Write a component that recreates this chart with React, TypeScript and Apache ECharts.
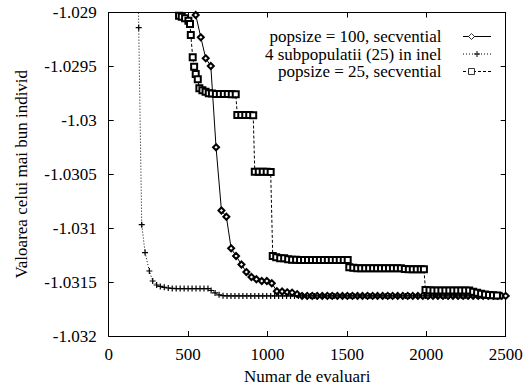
import React, { useEffect, useRef } from "react";
import * as echarts from "echarts";

// Best individual's value versus number of evaluations, three GA setups.
const seriesNames = [
  "popsize = 100, secvential",
  "4 subpopulatii (25) in inel",
  "popsize = 25, secvential",
];

// popsize = 100, sequential
const popsize100X = [
  516, 548, 580, 611, 643, 676, 710, 741, 771, 802,
  836, 867, 899, 930, 964, 996, 1027, 1059, 1092, 1124,
  1155, 1187,
  1218, 1250, 1282, 1313, 1345, 1377, 1408, 1440, 1472, 1503,
  1535, 1567, 1598, 1630, 1662, 1693, 1725, 1757, 1788, 1820,
  1852, 1883, 1915, 1947, 1978, 2010, 2042, 2073, 2105, 2137,
  2168, 2200, 2232, 2263, 2295, 2327, 2358, 2390, 2422, 2450,
  2475, 2500,
];
const popsize100Y = [
  -1.02885, -1.029023, -1.02923, -1.029425, -1.029496, -1.03025, -1.030836, -1.030894, -1.031187, -1.031258,
  -1.031337, -1.031407, -1.031453, -1.031474, -1.03149, -1.03149, -1.031511, -1.031585, -1.031587, -1.031595,
  -1.031598, -1.031612,
  -1.031628, -1.031628, -1.031628, -1.031628, -1.031628, -1.031628, -1.031628, -1.031628, -1.031628, -1.031628,
  -1.031628, -1.031628, -1.031628, -1.031628, -1.031628, -1.031628, -1.031628, -1.031628, -1.031628, -1.031628,
  -1.031628, -1.031628, -1.031628, -1.031628, -1.031628, -1.031628, -1.031628, -1.031628, -1.031628, -1.031628,
  -1.031628, -1.031628, -1.031628, -1.031628, -1.031628, -1.031628, -1.031628, -1.031628, -1.031628, -1.031628,
  -1.031628, -1.031628,
];

// 4 subpopulations of 25 in a ring
const ringX = [
  183, 189, 208, 229, 256, 277, 302, 325, 350, 375,
  400, 425, 450, 475, 500, 525, 550, 575, 600, 625,
  645, 670, 695, 720,
  745, 770, 795, 820, 845, 870, 895, 920, 945, 970,
  995, 1020, 1045, 1070, 1095, 1120, 1145, 1170, 1195, 1220,
  1245, 1270, 1295, 1320, 1345, 1370, 1395, 1420, 1445, 1470,
  1495, 1520, 1545, 1570, 1595, 1620, 1645, 1670, 1695, 1720,
  1745, 1770, 1795, 1820, 1845, 1870, 1895, 1920, 1945, 1970,
  1995, 2020, 2045, 2070, 2095, 2120, 2145, 2170, 2195, 2220,
  2245, 2270, 2295, 2320, 2345, 2370, 2395, 2420, 2445,
];
const ringY = [
  -1.028, -1.029141, -1.030968, -1.031226, -1.031397, -1.03149, -1.031527, -1.03154, -1.031549, -1.031555,
  -1.031559, -1.03156, -1.03156, -1.03156, -1.03156, -1.03156, -1.03156, -1.03156, -1.03156, -1.03156,
  -1.031578, -1.031601, -1.031618, -1.031626,
  -1.031628, -1.031628, -1.031628, -1.031628, -1.031628, -1.031628, -1.031628, -1.031628, -1.031628, -1.031628,
  -1.031628, -1.031628, -1.031628, -1.031628, -1.031628, -1.031628, -1.031628, -1.031628, -1.031628, -1.031628,
  -1.031628, -1.031628, -1.031628, -1.031628, -1.031628, -1.031628, -1.031628, -1.031628, -1.031628, -1.031628,
  -1.031628, -1.031628, -1.031628, -1.031628, -1.031628, -1.031628, -1.031628, -1.031628, -1.031628, -1.031628,
  -1.031628, -1.031628, -1.031628, -1.031628, -1.031628, -1.031628, -1.031628, -1.031628, -1.031628, -1.031628,
  -1.031628, -1.031628, -1.031628, -1.031628, -1.031628, -1.031628, -1.031628, -1.031628, -1.031628, -1.031628,
  -1.031628, -1.031628, -1.031628, -1.031628, -1.031628, -1.031628, -1.031628, -1.031628, -1.031628,
];

// popsize = 25, sequential
const popsize25X = [
  425, 443, 460, 481, 502, 512, 517, 529, 538, 548,
  561, 571, 590, 610, 630, 650, 675, 700, 725, 750,
  775, 800, 810, 835, 860, 885, 910, 920, 945, 970,
  995, 1020, 1033, 1055, 1080, 1105, 1130, 1155, 1180, 1205,
  1230, 1255, 1280, 1305, 1330, 1355, 1380, 1405, 1430, 1455,
  1480, 1505, 1515, 1540, 1565, 1590, 1615, 1640, 1665, 1690,
  1715, 1740, 1765, 1790, 1815, 1840, 1865, 1890, 1915, 1940,
  1965, 1985, 1995, 2020, 2045, 2070, 2095, 2120, 2145, 2170,
  2195, 2220, 2245, 2270, 2295, 2320, 2345, 2370, 2395, 2420,
  2445,
];
const popsize25Y = [
  -1.0287, -1.02903, -1.029039, -1.029054, -1.029076, -1.029107, -1.029209, -1.029415, -1.029503, -1.02957,
  -1.029619, -1.029703, -1.02972, -1.029735, -1.029748, -1.029752, -1.029755, -1.029755, -1.029756, -1.029756,
  -1.029757, -1.029757, -1.02995, -1.02995, -1.029951, -1.029951, -1.029952, -1.030476, -1.030476, -1.030477,
  -1.030477, -1.030478, -1.031258, -1.03127, -1.031279, -1.03128, -1.031288, -1.031292, -1.031294, -1.031295,
  -1.031295, -1.031295, -1.031295, -1.031295, -1.031295, -1.031295, -1.031295, -1.031295, -1.031295, -1.031295,
  -1.031295, -1.031295, -1.031363, -1.031368, -1.031372, -1.031372, -1.031372, -1.031372, -1.031372, -1.031372,
  -1.031372, -1.031372, -1.031372, -1.031372, -1.031372, -1.031372, -1.031378, -1.03138, -1.031381, -1.031381,
  -1.031381, -1.031381, -1.031573, -1.031575, -1.031578, -1.031578, -1.031578, -1.031578, -1.031578, -1.031578,
  -1.031578, -1.031578, -1.031578, -1.031578, -1.03159, -1.0316, -1.031608, -1.031614, -1.031619, -1.031622,
  -1.031624,
];

const font = "Liberation Serif";

const pairs = (xs: number[], ys: number[]) => xs.map((x, i) => [x, ys[i]]);

const PLUS = "path://M4,0H6V4H10V6H6V10H4V6H0V4H4Z";

// key box geometry (pixels)
const KEY_TEXT_RIGHT = 441.5;
const KEY_LINE_X0 = 463;
const KEY_LINE_X1 = 491;
const KEY_ROWS = [36.5, 54, 71.5];
const KEY_MARK_X = [471.5, 477, 471.5];

function keyItems() {
  const dashes = [null, [1, 2], [3, 2]];
  const items: any[] = [];
  seriesNames.forEach((name, i) => {
    const y = KEY_ROWS[i];
    items.push({
      type: "text",
      x: KEY_TEXT_RIGHT,
      y,
      style: {
        text: name,
        fontFamily: font,
        fontSize: 17,
        fill: "#000",
        align: "right",
        verticalAlign: "middle",
      },
    });
    items.push({
      type: "line",
      shape: { x1: KEY_LINE_X0, y1: y, x2: KEY_LINE_X1, y2: y },
      style: { stroke: "#000", lineWidth: 1, lineDash: dashes[i] || undefined },
    });
  });
  const s = 3;
  const [dx, px, sx] = KEY_MARK_X;
  const [y0, y1, y2] = KEY_ROWS;
  items.push({
    type: "polygon",
    shape: { points: [[dx, y0 - s], [dx + s, y0], [dx, y0 + s], [dx - s, y0]] },
    style: { fill: "#fff", stroke: "#000", lineWidth: 0.8 },
  });
  items.push({
    type: "line",
    shape: { x1: px - 3, y1: y1, x2: px + 3, y2: y1 },
    style: { stroke: "#000", lineWidth: 1 },
  });
  items.push({
    type: "line",
    shape: { x1: px, y1: y1 - 3, x2: px, y2: y1 + 3 },
    style: { stroke: "#000", lineWidth: 1 },
  });
  items.push({
    type: "rect",
    shape: { x: sx - 3, y: y2 - 3, width: 6, height: 6 },
    style: { fill: "#fff", stroke: "#000", lineWidth: 0.8 },
  });
  return items;
}

export default function App() {
  const ref = useRef<HTMLDivElement>(null);

  useEffect(() => {
    if (!ref.current) return;
    const chart = echarts.init(ref.current, null, { renderer: "svg" });

    const xCommon = {
      type: "value" as const,
      min: 0,
      max: 2500,
      interval: 500,
      splitLine: { show: false },
      axisLine: { show: true, onZero: false, lineStyle: { color: "#000", width: 1 } },
      axisTick: { show: true, inside: true, length: 5, lineStyle: { color: "#000" } },
    };
    const yCommon = {
      type: "value" as const,
      min: -1.032,
      max: -1.029,
      interval: 0.0005,
      splitLine: { show: false },
      axisLine: { show: true, onZero: false, lineStyle: { color: "#000", width: 1 } },
      axisTick: { show: true, inside: true, length: 5, lineStyle: { color: "#000" } },
    };

    const common = {
      type: "line" as const,
      showAllSymbol: true,
      clip: true,
      color: "#000",
      xAxisIndex: 0,
      yAxisIndex: 0,
    };

    chart.setOption({
      animation: false,
      backgroundColor: "#fff",
      textStyle: { fontFamily: font },
      grid: {
        left: 108.7,
        right: 23.3,
        top: 12.5,
        bottom: 47,
        containLabel: false,
        outerBoundsMode: "none",
      },
      graphic: keyItems(),
      xAxis: [
        {
          ...xCommon,
          position: "bottom",
          name: "Numar de evaluari",
          nameLocation: "middle",
          nameGap: 26,
          nameTextStyle: { fontFamily: font, fontSize: 17, color: "#000" },
          axisLabel: {
            fontFamily: font,
            fontSize: 17,
            color: "#000",
            margin: 10,
            formatter: (v: number) => String(v),
          },
        },
        { ...xCommon, position: "top", axisLabel: { show: false } },
      ],
      yAxis: [
        {
          ...yCommon,
          position: "left",
          name: "Valoarea celui mai bun individ",
          nameLocation: "middle",
          nameGap: 79,
          nameTextStyle: { fontFamily: font, fontSize: 17, color: "#000" },
          axisLabel: {
            fontFamily: font,
            fontSize: 17,
            color: "#000",
            margin: 12,
            formatter: (v: number) => String(parseFloat(v.toFixed(6))),
          },
        },
        { ...yCommon, position: "right", axisLabel: { show: false } },
      ],
      series: [
        {
          ...common,
          name: seriesNames[0],
          data: pairs(popsize100X, popsize100Y),
          symbol: "emptyDiamond",
          symbolSize: 6,
          lineStyle: { color: "#000", width: 1, type: "solid" },
          itemStyle: { color: "#000", borderColor: "#000", borderWidth: 0.8 },
        },
        {
          ...common,
          name: seriesNames[1],
          data: pairs(ringX, ringY),
          symbol: PLUS,
          symbolSize: 6,
          lineStyle: { color: "#000", width: 1, type: [1, 2] },
          itemStyle: { color: "#000" },
        },
        {
          ...common,
          name: seriesNames[2],
          data: pairs(popsize25X, popsize25Y),
          symbol: "emptyRect",
          symbolSize: 6,
          lineStyle: { color: "#000", width: 1, type: [3, 2] },
          itemStyle: { color: "#000", borderColor: "#000", borderWidth: 1 },
        },
      ],
    });

    return () => chart.dispose();
  }, []);

  return (
    <div
      ref={ref}
      style={{ position: "absolute", left: 0, top: 0, width: 529, height: 383, background: "#fff" }}
    />
  );
}
